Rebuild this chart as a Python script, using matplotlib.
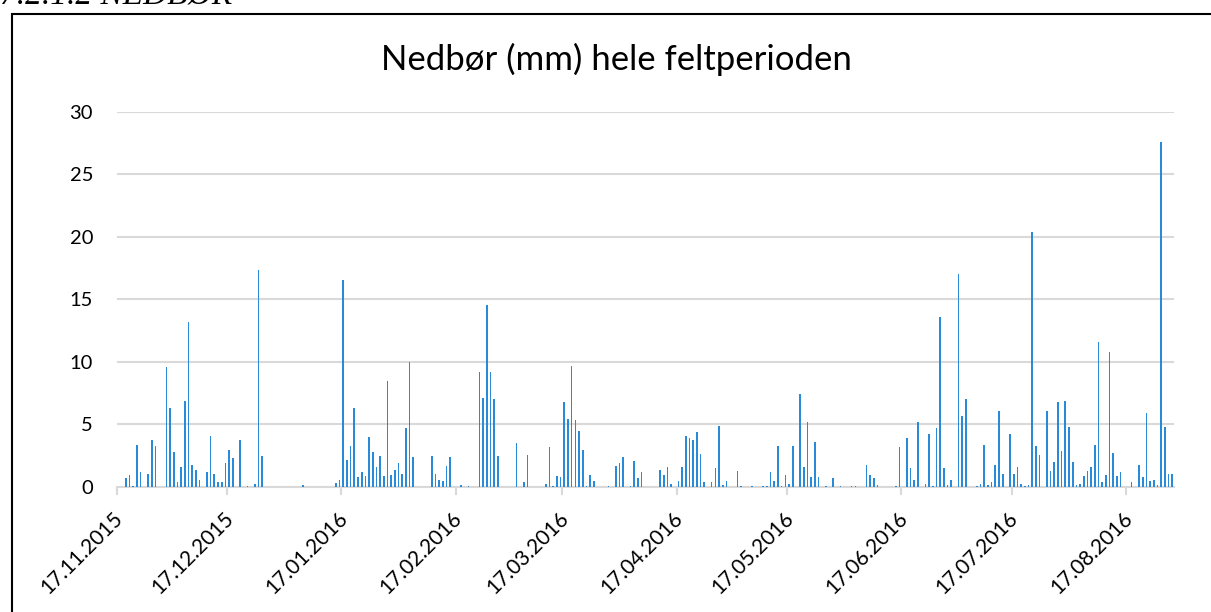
import datetime as dt
import matplotlib
matplotlib.use("Agg")
import matplotlib.pyplot as plt
import matplotlib.dates as mdates
from matplotlib.patches import Rectangle
from matplotlib.transforms import ScaledTranslation

# ---------------- data ----------------
start_date = "17.11.2015"
# daily precipitation (mm), one value per day starting at start_date
daily_mm = [
    0, 0, 0.67, 0.94, 0.05, 3.34, 1.15, 0, 1.04, 3.77,
    3.26, 0, 0, 9.6, 6.28, 2.75, 0.37, 1.58, 6.87, 13.2,
    1.76, 1.34, 0.53, 0, 1.15, 4.06, 1.04, 0.35, 0.35, 1.87,
    2.97, 2.27, 0, 3.77, 0, 0.05, 0, 0.24, 17.35, 2.46,
    0, 0, 0, 0, 0, 0, 0, 0, 0, 0,
    0.15, 0, 0, 0, 0, 0, 0, 0, 0, 0.27,
    0.53, 16.5, 2.14, 3.26, 6.28, 0.78, 1.15, 0.86, 3.98, 2.75,
    1.58, 2.46, 0.86, 8.48, 0.94, 1.34, 1.87, 1.04, 4.68, 10.0,
    2.35, 0, 0, 0, 0, 2.46, 1.04, 0.53, 0.45, 1.66,
    2.35, 0, 0, 0.12, 0, 0.05, 0, 0, 9.2, 7.06,
    14.5, 9.2, 6.98, 2.46, 0, 0, 0, 0, 3.48, 0,
    0.37, 2.54, 0, 0, 0, 0, 0.24, 3.16, 0.05, 0.86,
    0.78, 6.79, 5.45, 9.68, 5.37, 4.47, 2.97, 0.05, 0.94, 0.45,
    0, 0, 0, 0.05, 0, 1.66, 1.87, 2.35, 0, 0.05,
    2.06, 0.67, 1.15, 0, 0, 0, 0, 1.34, 0.94, 1.58,
    0.24, 0, 0.45, 1.58, 4.06, 3.88, 3.77, 4.36, 2.65, 0.35,
    0, 0.35, 1.47, 4.87, 0.13, 0.45, 0, 0, 1.26, 0.05,
    0, 0, 0.05, 0, 0, 0.05, 0.05, 1.15, 0.45, 3.26,
    0.05, 0.94, 0.24, 3.26, 0, 7.41, 1.58, 5.19, 0.78, 3.56,
    0.78, 0, 0.05, 0, 0.67, 0, 0.05, 0, 0, 0.05,
    0.05, 0, 0, 1.74, 0.94, 0.67, 0.13, 0, 0, 0,
    0, 0.05, 3.16, 0, 3.88, 1.47, 0.53, 5.19, 0, 0.24,
    4.25, 0.05, 4.68, 13.6, 1.47, 0.13, 0.53, 0, 17.0, 5.67,
    6.98, 0, 0, 0.05, 0.24, 3.34, 0.13, 0.35, 1.76, 6.07,
    1.04, 0, 4.25, 1.04, 1.58, 0.24, 0.05, 0.13, 20.4, 3.26,
    2.54, 0, 6.07, 1.26, 1.95, 6.79, 2.86, 6.87, 4.76, 1.95,
    0.13, 0.24, 0.86, 1.26, 1.58, 3.34, 11.6, 0.35, 0.94, 10.78,
    2.67, 0.86, 1.15, 0, 0, 0.35, 0, 1.76, 0.78, 5.88,
    0.45, 0.53, 0.13, 27.6, 4.76, 1.04, 1.04,
]
tick_labels = ["17.11.2015", "17.12.2015", "17.01.2016", "17.02.2016",
               "17.03.2016", "17.04.2016", "17.05.2016", "17.06.2016",
               "17.07.2016", "17.08.2016"]
y_ticks = [0, 5, 10, 15, 20, 25, 30]
title = "Nedbør (mm) hele feltperioden"
heading = "7.2.1.2 NEDBØR"

# ---------------- figure ----------------
W, H, DPI = 1211, 612, 100
plt.rcParams["font.family"] = ["Lato", "DejaVu Sans"]
fig = plt.figure(figsize=(W / DPI, H / DPI), dpi=DPI)

# axes placed in pixel coordinates of the reference
left_px, right_px, top_px, bottom_px = 116.7, 1174, 111.7, 486.7
ax = fig.add_axes([left_px / W, 1 - bottom_px / H,
                   (right_px - left_px) / W, (bottom_px - top_px) / H])

d0 = dt.datetime.strptime(start_date, "%d.%m.%Y")
dates = [d0 + dt.timedelta(days=i) for i in range(len(daily_mm))]
xnum = mdates.date2num(dates) + 0.5
ax.bar(xnum, daily_mm, width=0.45, color="#2A8ADA", linewidth=0, zorder=3)

ax.set_xlim(mdates.date2num(d0), mdates.date2num(d0) + len(daily_mm))
ax.set_ylim(0, 30)
ax.set_yticks(y_ticks)
ax.set_yticklabels([str(v) for v in y_ticks], fontsize=14.5)
ax.tick_params(axis="y", length=0, pad=17)
ax.yaxis.grid(True, color="#D9D9D9", linewidth=1.5, zorder=0)
ax.set_axisbelow(True)

tick_pos = [mdates.date2num(dt.datetime.strptime(t, "%d.%m.%Y")) for t in tick_labels]
ax.set_xticks(tick_pos)
ax.set_xticklabels(tick_labels, rotation=45, ha="right", va="top",
                   rotation_mode="anchor", fontsize=15)
ax.tick_params(axis="x", direction="out", length=6, width=1.5,
               color="#D9D9D9", pad=4)
offset = ScaledTranslation(-4 / DPI, -8 / DPI, fig.dpi_scale_trans)
for lab in ax.get_xticklabels():
    lab.set_transform(lab.get_transform() + offset)

for s in ["top", "right", "left"]:
    ax.spines[s].set_visible(False)
ax.spines["bottom"].set_color("#D9D9D9")
ax.spines["bottom"].set_linewidth(1.5)

# title
fig.text(616 / W, 1 - 70 / H, title, ha="center", va="baseline",
         fontsize=25, color="#000000")

# clipped heading at the very top
fig.text(0 / W, 1 - 4 / H, heading, ha="left", va="baseline",
         fontsize=24, family=["Liberation Serif"], style="italic")

# chart frame
frame = Rectangle((12 / W, -0.2), 1.5, (1 - 13.5 / H) + 0.2,
                  transform=fig.transFigure, fill=False,
                  edgecolor="black", linewidth=1.5, clip_on=False)
fig.add_artist(frame)

fig.savefig("out.png", dpi=DPI)
